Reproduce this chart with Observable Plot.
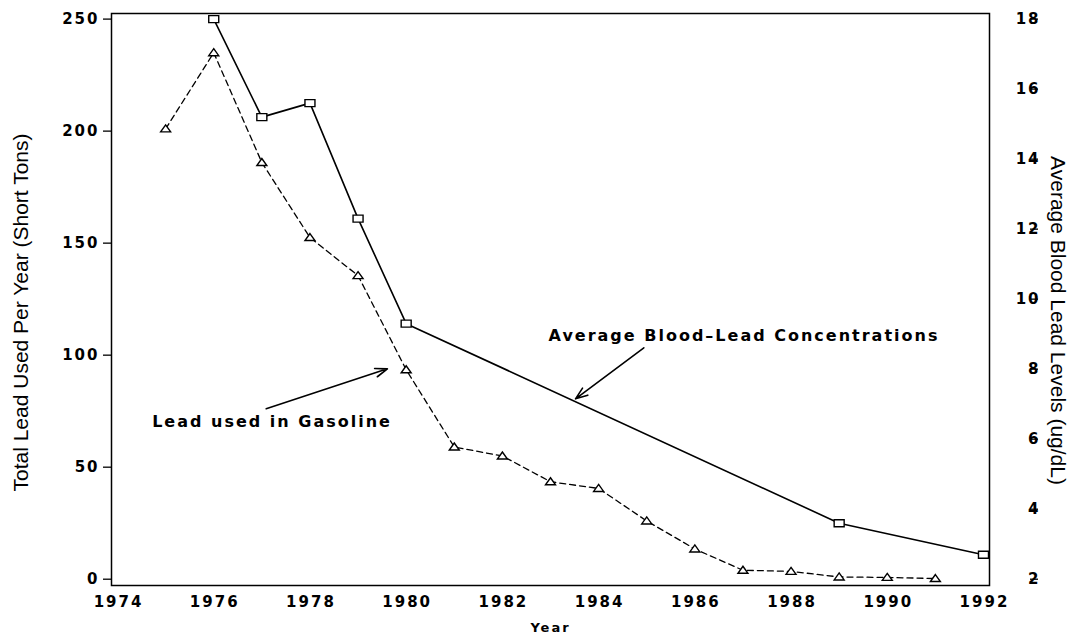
<!DOCTYPE html>
<html>
<head>
<meta charset="utf-8">
<script src="https://cdn.jsdelivr.net/npm/d3@7"></script>
<script src="https://cdn.jsdelivr.net/npm/@observablehq/plot@0.6"></script>
<style>
  html, body { margin: 0; padding: 0; background: #fff; }
  #chart svg { display: block; }
  #chart .axtitle text { letter-spacing: 0px; }
  #chart .annot text { letter-spacing: 2px; }
</style>
</head>
<body>
<div id="chart"></div>
<script>
// ---- data ----
const gasYears = [1975, 1976, 1977, 1978, 1979, 1980, 1981, 1982, 1983, 1984, 1985, 1986, 1987, 1988, 1989, 1990, 1991];
const gasLead  = [201, 235, 186, 152.5, 135.5, 93.5, 59, 55, 43.5, 40.5, 26, 13.5, 4, 3.5, 1, 0.8, 0.3];
const bloodYears = [1976, 1977, 1978, 1979, 1980, 1989, 1992];
const bloodLead  = [18.0, 15.2, 15.6, 12.3, 9.3, 3.6, 2.7];
const xTicks = [1974, 1976, 1978, 1980, 1982, 1984, 1986, 1988, 1990, 1992];
const leftTicks = [0, 50, 100, 150, 200, 250];
const rightTicks = [2, 4, 6, 8, 10, 12, 14, 16, 18];
const annotations = [
  {text: "Lead used in Gasoline", x: 1974.72, y: 70.1, ax1: 1977.09, ay1: 76.1, ax2: 1979.61, ay2: 93.9},
  {text: "Average Blood\u2013Lead Concentrations", x: 1982.96, y: 108.8, ax1: 1984.94, ay1: 103.3, ax2: 1983.52, ay2: 80.5}
];

// right axis (ug/dL) maps linearly onto left axis: 2 -> 0, 18 -> 250
const toLeft = v => (v - 2) * 250 / 16;
const toRight = v => 2 + v * 16 / 250;

const gas = gasYears.map((yr, i) => ({year: yr, value: gasLead[i]}));
const blood = bloodYears.map((yr, i) => ({year: yr, value: toLeft(bloodLead[i])}));

const squareSym = {draw(ctx) { ctx.moveTo(-5, -3.5); ctx.lineTo(5, -3.5); ctx.lineTo(5, 3.5); ctx.lineTo(-5, 3.5); ctx.closePath(); }};
const triSym = {draw(ctx) { ctx.moveTo(0, -4); ctx.lineTo(5, 3); ctx.lineTo(-5, 3); ctx.closePath(); }};

const bold = {fontFamily: "DejaVu Sans", fontWeight: "bold"};
const titleFont = {fontFamily: "Liberation Sans", fontWeight: "normal", fontSize: 21, textAnchor: "middle", className: "axtitle"};

const chart = Plot.plot({
  width: 1070,
  height: 639,
  marginLeft: 111,
  marginRight: 81,
  marginTop: 13,
  marginBottom: 54,
  style: {fontFamily: "DejaVu Sans", fontSize: "15px", fontWeight: "bold", letterSpacing: "2px", color: "#000", background: "#fff"},
  x: {domain: [1973.875, 1992.125]},
  y: {domain: [-2.81, 252.5]},
  marks: [
    Plot.frame({stroke: "#000", strokeWidth: 1.5}),
    Plot.axisX({ticks: xTicks, tickSize: 0, tickPadding: 11, tickFormat: "d", label: null, dx: 1, ...bold}),
    Plot.axisY({anchor: "left", ticks: leftTicks, tickSize: 8, tickPadding: 4, label: null, strokeWidth: 1.3, ...bold}),
    Plot.axisY({anchor: "right", ticks: rightTicks.map(toLeft), tickFormat: d => String(Math.round(toRight(d))),
      tickSize: 8, tickPadding: 3, textAnchor: "end", dx: 40, label: null, strokeWidth: 1.3, ...bold}),
    Plot.line(gas, {x: "year", y: "value", stroke: "#000", strokeWidth: 1.3, strokeDasharray: "6,4"}),
    Plot.line(blood, {x: "year", y: "value", stroke: "#000", strokeWidth: 1.6}),
    Plot.dot(gas, {x: "year", y: "value", symbol: triSym, r: 4, stroke: "#000", fill: "#fff", strokeWidth: 1.4}),
    Plot.dot(blood, {x: "year", y: "value", symbol: squareSym, r: 4, stroke: "#000", fill: "#fff", strokeWidth: 1.4}),
    Plot.arrow(annotations, {x1: "ax1", y1: "ay1", x2: "ax2", y2: "ay2", stroke: "#000", strokeWidth: 1.6, headLength: 12, headAngle: 40}),
    Plot.text(annotations, {x: "x", y: "y", text: "text", textAnchor: "start", fontSize: 16, className: "annot", ...bold}),
    Plot.text(["Total Lead Used Per Year (Short Tons)"], {frameAnchor: "left", rotate: -90, dx: -90, dy: 13, ...titleFont}),
    Plot.text(["Average Blood Lead Levels (ug/dL)"], {frameAnchor: "right", rotate: 90, dx: 68, dy: 21, ...titleFont}),
    Plot.text(["Year"], {frameAnchor: "bottom", dy: 46, fontSize: 13, textAnchor: "middle", ...bold})
  ]
});
document.getElementById("chart").appendChild(chart);
</script>
</body>
</html>
